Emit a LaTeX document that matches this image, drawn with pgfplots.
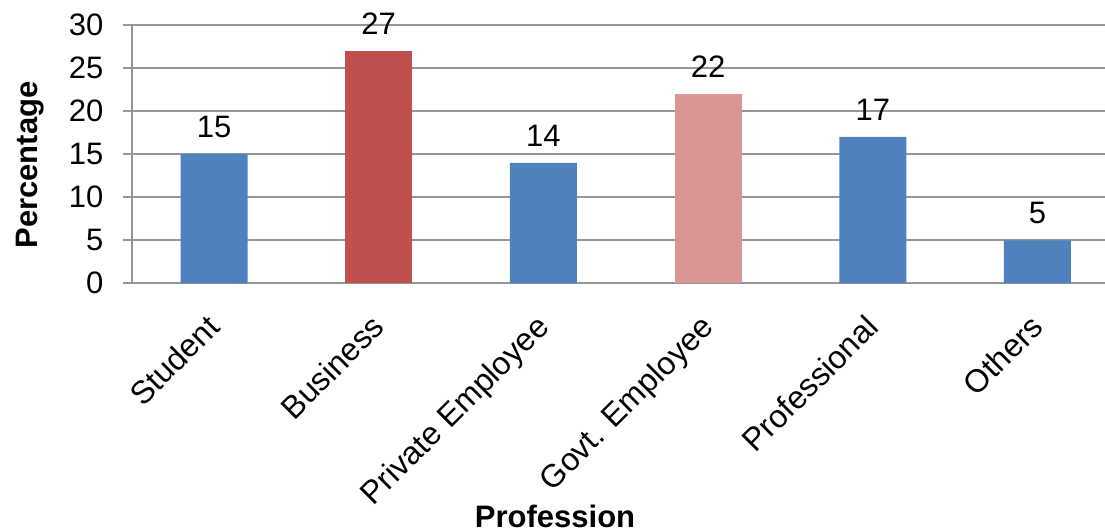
\documentclass[border=0pt]{standalone}
\usepackage{pgfplots}
\pgfplotsset{compat=1.18}
\usepackage{fontspec}
\setmainfont{Liberation Sans}
\definecolor{cblue}{HTML}{4F81BD}
\definecolor{cred}{HTML}{C0504D}
\definecolor{cpink}{HTML}{D99694}
\definecolor{cgrid}{RGB}{150,150,150}
\begin{document}
\begin{tikzpicture}
\begin{axis}[
  at={(0,0)}, anchor=south west,
  scale only axis,
  width=486.65bp, height=129.15bp,
  xmin=-0.5, xmax=5.41,
  ymin=0, ymax=30,
  ytick={0,5,...,30},
  xtick={0,1,2,3,4,5},
  xticklabels={Student,Business,Private Employee,Govt. Employee,Professional,Others},
  axis x line*=bottom,
  axis y line*=left,
  axis line style={cgrid, line width=1bp, -},
  ymajorgrids,
  grid style={cgrid, line width=1bp},
  y tick style={cgrid, line width=1bp},
  x tick style={draw=none},
  tick align=outside,
  major tick length=4.5bp,
  /pgf/number format/assume math mode=true,
  tick label style={font=\fontsize{15.5bp}{18bp}\selectfont, black},
  yticklabel style={anchor=east, inner sep=0pt, xshift=-9.5bp},
  xticklabel style={font=\fontsize{16bp}{19bp}\selectfont, xshift=-4.5bp, yshift=-10bp, rotate=45, anchor=north east, inner sep=0pt},
  ybar, bar width=33.5bp, bar shift=0pt,
  nodes near coords,
  nodes near coords style={font=\fontsize{15.5bp}{18bp}\selectfont, black, anchor=center, yshift=13.5bp},
  xlabel={Profession},
  ylabel={Percentage},
  label style={font=\fontsize{15.5bp}{18bp}\selectfont\bfseries},
  xlabel style={at={(axis description cs:0.435,-0.902)}, anchor=center},
  ylabel style={at={(axis description cs:-0.1045,0.458)}, anchor=center, rotate=0},
  clip=false,
]
\addplot[fill=cblue, draw=none] coordinates {(0,15) (2,14) (4,17) (5,5)};
\addplot[fill=cred, draw=none] coordinates {(1,27)};
\addplot[fill=cpink, draw=none] coordinates {(3,22)};
\end{axis}
\pgfresetboundingbox
\useasboundingbox (-65.85bp,-124.35bp) rectangle (486.65bp,141.65bp);
\end{tikzpicture}
\end{document}
